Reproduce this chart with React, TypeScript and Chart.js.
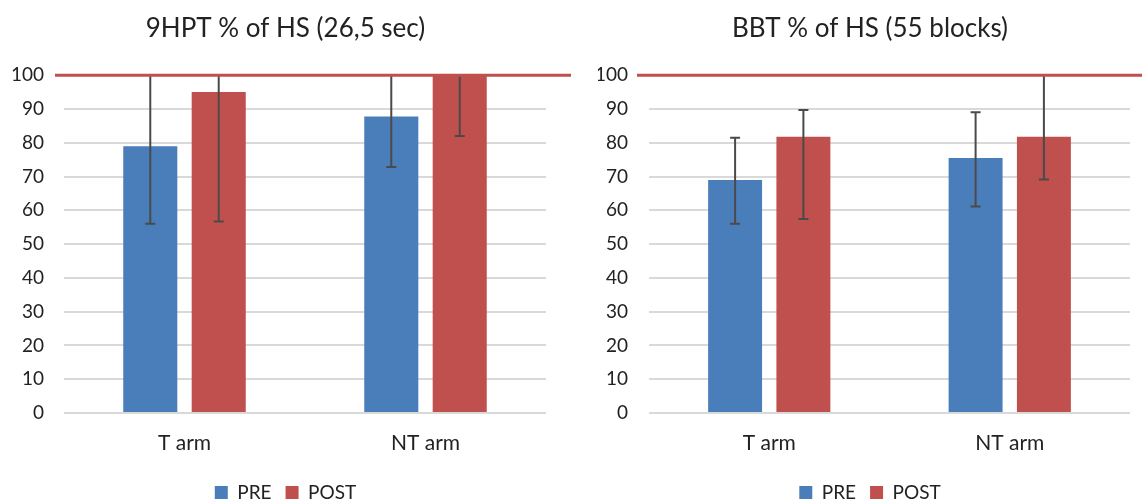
import { useEffect, useRef } from "react";
import { Chart, registerables } from "chart.js";

Chart.register(...registerables);

// ---- data ----
const categories = ["T arm", "NT arm"];
const seriesNames = ["PRE", "POST"];

// 9HPT % of HS
const hptTitle = "9HPT % of HS (26,5 sec)";
const hptPre = [79, 87.8];
const hptPost = [95, 100];
const hptPreLow = [56, 72.8];
const hptPreHigh = [102, 102.8];
const hptPostLow = [56.7, 82];
const hptPostHigh = [133.3, 118];

// BBT % of HS
const bbtTitle = "BBT % of HS (55 blocks)";
const bbtPre = [69, 75.5];
const bbtPost = [81.8, 81.8];
const bbtPreLow = [56, 61.1];
const bbtPreHigh = [81.5, 89];
const bbtPostLow = [57.4, 69.1];
const bbtPostHigh = [89.7, 104];

const yTicksMin = 0;
const yTicksMax = 100;
const yStep = 10;
const referenceValue = 100;

const BLUE = "#4A7EBB";
const RED = "#C0504D";
const FONT = "Lato, 'Open Sans', sans-serif";
const CANVAS_H = 512;

const errorBarPlugin = {
  id: "errorBars",
  afterDatasetsDraw(chart: any) {
    const { ctx, chartArea } = chart;
    const yScale = chart.scales.y;
    const errs = chart.options.plugins.errorBars?.errs || [];
    ctx.save();
    ctx.strokeStyle = "#4a4a4a";
    ctx.lineWidth = 2;
    chart.data.datasets.forEach((_ds: any, i: number) => {
      const meta = chart.getDatasetMeta(i);
      const e = errs[i];
      if (!e) return;
      meta.data.forEach((el: any, j: number) => {
        const x = el.x;
        let yl = yScale.getPixelForValue(e.low[j]);
        let yh = yScale.getPixelForValue(e.high[j]);
        const clipTop = yh < chartArea.top;
        const clipBot = yl > chartArea.bottom;
        yh = Math.max(yh, chartArea.top);
        yl = Math.min(yl, chartArea.bottom);
        ctx.beginPath();
        ctx.moveTo(x, yl);
        ctx.lineTo(x, yh);
        if (!clipTop) {
          ctx.moveTo(x - 5, yh);
          ctx.lineTo(x + 5, yh);
        }
        if (!clipBot) {
          ctx.moveTo(x - 5, yl);
          ctx.lineTo(x + 5, yl);
        }
        ctx.stroke();
      });
    });
    ctx.restore();
  },
};

const refLinePlugin = {
  id: "refLine",
  afterDatasetsDraw(chart: any) {
    const opts = chart.options.plugins.refLine;
    if (!opts) return;
    const { ctx } = chart;
    const y = chart.scales.y.getPixelForValue(opts.value);
    ctx.save();
    ctx.strokeStyle = RED;
    ctx.lineWidth = 3;
    ctx.beginPath();
    ctx.moveTo(opts.startX, y);
    ctx.lineTo(chart.width, y);
    ctx.stroke();
    ctx.restore();
  },
};

type PanelProps = {
  title: string;
  pre: number[];
  post: number[];
  preLow: number[];
  preHigh: number[];
  postLow: number[];
  postHigh: number[];
  left: number;
  width: number;
  yWidth: number;
  tickPad: number;
  rightPad: number;
  lineStart: number;
};

function Panel(p: PanelProps) {
  const ref = useRef<HTMLCanvasElement | null>(null);
  useEffect(() => {
    if (!ref.current) return;
    const chart = new Chart(ref.current, {
      type: "bar",
      data: {
        labels: categories,
        datasets: [
          {
            label: seriesNames[0],
            data: p.pre,
            backgroundColor: BLUE,
            categoryPercentage: 0.568,
            barPercentage: 0.79,
          },
          {
            label: seriesNames[1],
            data: p.post,
            backgroundColor: RED,
            categoryPercentage: 0.568,
            barPercentage: 0.79,
          },
        ],
      },
      options: {
        responsive: false,
        animation: false,
        layout: { padding: 0 },
        scales: {
          x: {
            grid: { display: false, drawTicks: false },
            border: { display: false },
            ticks: {
              color: "#222",
              font: { family: FONT, size: 21 },
              padding: 18,
            },
            afterFit: (axis: any) => {
              axis.height = 56;
            },
          },
          y: {
            min: yTicksMin,
            max: yTicksMax,
            grid: { color: "#D9D9D9", lineWidth: 2, drawTicks: false },
            border: { display: false },
            ticks: {
              stepSize: yStep,
              color: "#222",
              font: { family: FONT, size: 19 },
              padding: p.tickPad,
            },
            afterFit: (axis: any) => {
              axis.width = p.yWidth;
            },
          },
          yRight: {
            type: "linear",
            axis: "y",
            position: "right",
            grid: { display: false, drawTicks: false },
            border: { display: false },
            ticks: { display: false },
            afterFit: (axis: any) => {
              axis.width = p.rightPad;
            },
          },
        },
        plugins: {
          title: {
            display: true,
            text: p.title,
            color: "#222",
            font: { family: FONT, size: 26, weight: "normal" },
            padding: { top: 13, bottom: 31 },
          },
          legend: {
            position: "bottom",
            labels: {
              color: "#222",
              font: { family: FONT, size: 19 },
              boxWidth: 13,
              boxHeight: 13,
              padding: 14,
            },
          },
          tooltip: { enabled: false },
          errorBars: {
            errs: [
              { low: p.preLow, high: p.preHigh },
              { low: p.postLow, high: p.postHigh },
            ],
          },
          refLine: { value: referenceValue, startX: p.lineStart },
        } as any,
      } as any,
      plugins: [errorBarPlugin, refLinePlugin],
    });
    return () => chart.destroy();
  }, []);
  return (
    <div style={{ position: "absolute", left: p.left, top: 0, width: p.width, height: CANVAS_H }}>
      <canvas ref={ref} width={p.width} height={CANVAS_H} style={{ display: "block" }} />
    </div>
  );
}

export default function App() {
  return (
    <div
      style={{
        position: "fixed",
        left: 0,
        top: 0,
        width: 1142,
        height: 502,
        background: "#fff",
        overflow: "hidden",
      }}
    >
      <Panel
        title={hptTitle}
        pre={hptPre}
        post={hptPost}
        preLow={hptPreLow}
        preHigh={hptPreHigh}
        postLow={hptPostLow}
        postHigh={hptPostHigh}
        left={0}
        width={571}
        yWidth={64}
        tickPad={20}
        rightPad={25}
        lineStart={55}
      />
      <Panel
        title={bbtTitle}
        pre={bbtPre}
        post={bbtPost}
        preLow={bbtPreLow}
        preHigh={bbtPreHigh}
        postLow={bbtPostLow}
        postHigh={bbtPostHigh}
        left={598}
        width={544}
        yWidth={51}
        tickPad={21}
        rightPad={12}
        lineStart={39}
      />
    </div>
  );
}
